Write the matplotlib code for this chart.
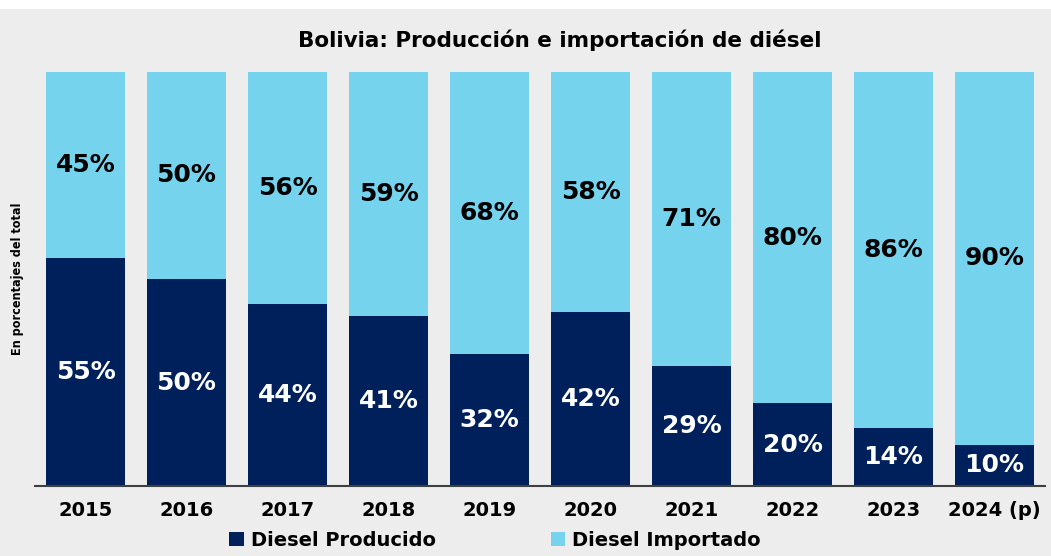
import matplotlib.pyplot as plt
import numpy as np
from matplotlib.patches import Rectangle

years = ['2015', '2016', '2017', '2018', '2019', '2020', '2021', '2022', '2023', '2024 (p)']
producido = [55, 50, 44, 41, 32, 42, 29, 20, 14, 10]
importado = [45, 50, 56, 59, 68, 58, 71, 80, 86, 90]

dark = '#00205B'
light = '#76D3EE'
bg = '#EDEDED'

fig = plt.figure(figsize=(10.51, 5.56), dpi=100, facecolor=bg)
# white strip at the very top
fig.patches.append(Rectangle((0, 1 - 9 / 556), 1, 9 / 556, transform=fig.transFigure,
                             facecolor='white', edgecolor='none', zorder=0))

ax = fig.add_axes([35 / 1051, 1 - 486 / 556, (1045 - 35) / 1051, (486 - 72) / 556])
ax.set_facecolor(bg)

x = np.arange(len(years))
w = 0.792
ax.bar(x, producido, width=w, color=dark, label='Diesel Producido')
ax.bar(x, importado, width=w, bottom=producido, color=light, label='Diesel Importado')

for i in range(len(years)):
    ax.text(x[i], producido[i] / 2, f'{producido[i]}%', ha='center', va='center',
            color='white', fontsize=18, fontweight='bold')
    ax.text(x[i], producido[i] + importado[i] / 2, f'{importado[i]}%', ha='center', va='center',
            color='black', fontsize=18, fontweight='bold')

ax.set_xlim(-0.5, len(years) - 0.5)
ax.set_ylim(0, 100)
ax.set_yticks([])
ax.set_xticks(x)
ax.set_xticklabels(years, fontsize=14, fontweight='bold')
ax.tick_params(axis='x', length=0, pad=11)
for s in ['top', 'right', 'left']:
    ax.spines[s].set_visible(False)
ax.spines['bottom'].set_color('#404040')
ax.spines['bottom'].set_linewidth(1.5)

fig.text(560 / 1051, 1 - 40 / 556, 'Bolivia: Producción e importación de diésel',
         ha='center', va='center', fontsize=15.5, fontweight='bold')
fig.text(18 / 1051, 1 - 279 / 556, 'En porcentajes del total', rotation=90,
         ha='center', va='center', fontsize=9, fontweight='bold',
         family='DejaVu Sans', fontstretch='condensed')

fig.legend(loc='center', bbox_to_anchor=(495 / 1051, 1 - 540 / 556), ncol=2, frameon=False,
           prop={'size': 14, 'weight': 'bold'}, handlelength=0.75, handleheight=0.75,
           handletextpad=0.35, columnspacing=5.9)

fig.savefig('out.png', dpi=100, facecolor=bg)
